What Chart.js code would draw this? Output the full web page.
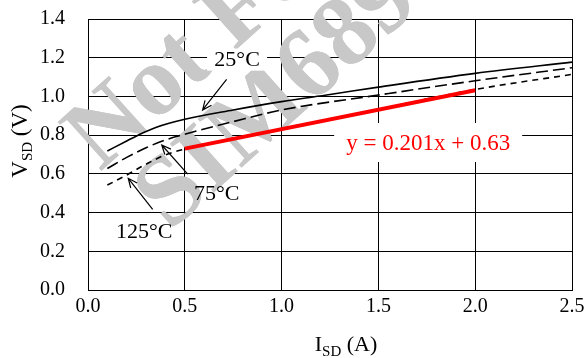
<!DOCTYPE html>
<html><head><meta charset="utf-8">
<script src="https://cdn.jsdelivr.net/npm/chart.js@4/dist/chart.umd.min.js"></script>
<style>html,body{margin:0;padding:0;background:#fff;}canvas{display:block;}</style>
</head><body>
<canvas id="c" width="585" height="358"></canvas>
<script>
// ---- data ----
const xMin = 0, xMax = 2.5, xStep = 0.5;
const yMin = 0, yMax = 1.4, yStep = 0.2;
const seriesNames = ['25°C', '75°C', '125°C'];
const x25 = [0.1, 0.2, 0.28, 0.35, 0.5, 0.75, 1.0, 1.25, 1.5, 2.0, 2.5];
const y25 = [0.718, 0.77, 0.81, 0.84, 0.882, 0.93, 0.973, 1.01, 1.048, 1.119, 1.177];
const x75 = [0.1, 0.2, 0.3, 0.4, 0.5, 0.75, 1.0, 1.5, 2.0, 2.5];
const y75 = [0.628, 0.685, 0.735, 0.775, 0.805, 0.87, 0.93, 1.007, 1.081, 1.148];
const x125 = [0.1, 0.2, 0.3, 0.4, 0.5, 1.0, 1.5, 2.0, 2.5];
const y125 = [0.542, 0.594, 0.65, 0.698, 0.728, 0.833, 0.934, 1.036, 1.114];
const fitX = [0.5, 2.0];
const fitY = [0.7305, 1.032];
const fitText = 'y = 0.201x + 0.63';
const xTitleParts = ['I', 'SD', ' (A)'];
const yTitleParts = ['V', 'SD', ' (V)'];
const watermarkTexts = ['Not For New Design', 'SIM6890'];

const pts = (xs, ys) => xs.map((x, i) => ({x, y: ys[i]}));

// ---- annotation placement (data units) ----
const notes = [
  {text: seriesNames[0], at: [0.77, 1.19], box: [60, 22], from: [0.716, 1.088], to: [0.592, 0.93]},
  {text: seriesNames[1], at: [0.665, 0.50], box: null, from: [0.515, 0.599], to: [0.381, 0.749]},
  {text: seriesNames[2], at: [0.29, 0.305], box: null, from: [0.334, 0.417], to: [0.208, 0.577]}
];
const fitNote = {at: [1.757, 0.762], box: [188, 39]};

const SERIF = '"Liberation Serif", "Times New Roman", serif';

function drawWatermark(ctx) {
  ctx.save();
  ctx.fillStyle = '#c8c8c8';
  ctx.font = 'bold 100px ' + SERIF;
  ctx.textBaseline = 'alphabetic';
  ctx.textAlign = 'left';
  const spots = [[100, 172], [170, 232]];
  watermarkTexts.forEach((t, i) => {
    ctx.save();
    ctx.translate(spots[i][0], spots[i][1]);
    ctx.rotate(-42 * Math.PI / 180);
    ctx.fillText(t, 0, 0);
    ctx.restore();
  });
  ctx.restore();
}

function arrow(ctx, x1, y1, x2, y2) {
  const a = Math.atan2(y2 - y1, x2 - x1), L = 10, w = 0.42;
  ctx.beginPath();
  ctx.moveTo(x1, y1); ctx.lineTo(x2, y2);
  ctx.moveTo(x2 - L * Math.cos(a - w), y2 - L * Math.sin(a - w));
  ctx.lineTo(x2, y2);
  ctx.lineTo(x2 - L * Math.cos(a + w), y2 - L * Math.sin(a + w));
  ctx.stroke();
}

function subText(ctx, parts, size, subSize, drop) {
  ctx.font = size + 'px ' + SERIF;
  const w0 = ctx.measureText(parts[0]).width;
  const w2 = ctx.measureText(parts[2]).width;
  ctx.font = subSize + 'px ' + SERIF;
  const w1 = ctx.measureText(parts[1]).width;
  const total = w0 + w1 + w2;
  let x = -total / 2;
  ctx.textAlign = 'left';
  ctx.textBaseline = 'alphabetic';
  ctx.font = size + 'px ' + SERIF; ctx.fillText(parts[0], x, 0); x += w0;
  ctx.font = subSize + 'px ' + SERIF; ctx.fillText(parts[1], x, drop); x += w1;
  ctx.font = size + 'px ' + SERIF; ctx.fillText(parts[2], x, 0);
}

const decor = {
  id: 'decor',
  beforeDraw(chart) {
    const ctx = chart.ctx;
    ctx.save();
    ctx.fillStyle = '#fff';
    ctx.fillRect(0, 0, chart.width, chart.height);
    ctx.restore();
    drawWatermark(ctx);
  },
  beforeDatasetsDraw(chart) {
    const ctx = chart.ctx, a = chart.chartArea;
    ctx.save();
    ctx.beginPath();
    ctx.rect(a.left - 1, a.top - 1, a.right - a.left + 2, a.bottom - a.top + 2);
    ctx.clip();
    drawWatermark(ctx);
    ctx.restore();
  },
  afterDatasetsDraw(chart) {
    const ctx = chart.ctx, xs = chart.scales.x, ys = chart.scales.y;
    const px = v => xs.getPixelForValue(v), py = v => ys.getPixelForValue(v);
    ctx.save();
    ctx.strokeStyle = '#000';
    ctx.lineWidth = 1.2;
    notes.forEach(n => {
      const cx = px(n.at[0]), cy = py(n.at[1]);
      if (n.box) {
        ctx.fillStyle = '#fff';
        ctx.fillRect(cx - n.box[0] / 2, cy - n.box[1] / 2, n.box[0], n.box[1]);
      }
      ctx.fillStyle = '#000';
      ctx.font = '22px ' + SERIF;
      ctx.textAlign = 'center';
      ctx.textBaseline = 'middle';
      ctx.fillText(n.text, cx, cy + 1);
      arrow(ctx, px(n.from[0]), py(n.from[1]), px(n.to[0]), py(n.to[1]));
    });
    // fit equation
    const fx = px(fitNote.at[0]), fy = py(fitNote.at[1]);
    ctx.fillStyle = '#fff';
    ctx.fillRect(fx - fitNote.box[0] / 2, fy - fitNote.box[1] / 2, fitNote.box[0], fitNote.box[1]);
    ctx.fillStyle = '#ff0000';
    ctx.font = '23px ' + SERIF;
    ctx.textAlign = 'center';
    ctx.textBaseline = 'middle';
    ctx.fillText(fitText, fx, fy + 1);
    // axis titles
    ctx.fillStyle = '#000';
    const a = chart.chartArea;
    ctx.save();
    ctx.translate((a.left + a.right) / 2 + 16, 351);
    subText(ctx, xTitleParts, 22, 15, 5);
    ctx.restore();
    ctx.save();
    ctx.translate(27, 141);
    ctx.rotate(-Math.PI / 2);
    subText(ctx, yTitleParts, 23, 15, 5);
    ctx.restore();
    ctx.restore();
  }
};

const lineBase = {pointRadius: 0, borderColor: '#000', borderWidth: 1.6, fill: false, cubicInterpolationMode: 'monotone', order: 2};

new Chart(document.getElementById('c'), {
  type: 'line',
  data: {
    datasets: [
      {label: 'fit', data: pts(fitX, fitY), borderColor: '#ff0000', borderWidth: 4, pointRadius: 0, order: 0, borderCapStyle: 'butt'},
      Object.assign({label: seriesNames[0], data: pts(x25, y25)}, lineBase),
      Object.assign({label: seriesNames[1], data: pts(x75, y75), borderDash: [12, 5]}, lineBase),
      Object.assign({label: seriesNames[2], data: pts(x125, y125), borderDash: [6, 5]}, lineBase)
    ]
  },
  options: {
    responsive: false,
    animation: false,
    events: [],
    layout: {padding: 0},
    plugins: {legend: {display: false}, tooltip: {enabled: false}, title: {display: false}},
    scales: {
      x: {
        type: 'linear', min: xMin, max: xMax,
        ticks: {stepSize: xStep, color: '#000', font: {family: SERIF, size: 20}, padding: 5, callback: v => Number(v).toFixed(1)},
        grid: {color: '#000', lineWidth: 1, drawTicks: false},
        border: {color: '#000', width: 1},
        afterFit: s => { s.height = 68; s.paddingLeft = 0; s.paddingRight = 13; }
      },
      y: {
        type: 'linear', min: yMin, max: yMax,
        ticks: {stepSize: yStep, color: '#000', font: {family: SERIF, size: 20}, padding: 23, callback: v => Number(v).toFixed(1)},
        grid: {color: '#000', lineWidth: 1, drawTicks: false},
        border: {color: '#000', width: 1},
        afterFit: s => { s.width = 88; s.paddingTop = 19; s.paddingBottom = 0; }
      }
    }
  },
  plugins: [decor]
});
</script>
</body></html>
